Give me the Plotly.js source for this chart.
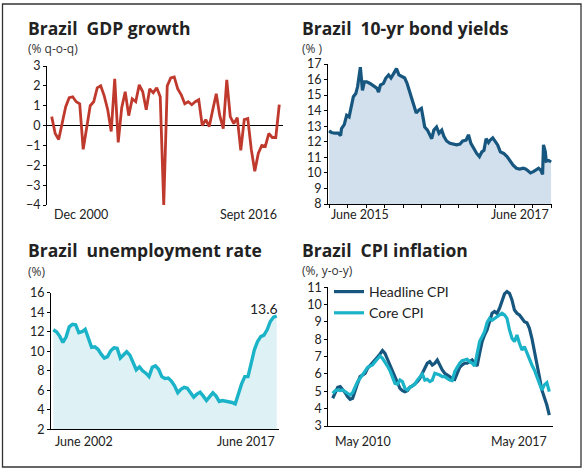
<!DOCTYPE html>
<html>
<head>
<meta charset="utf-8">
<script src="https://cdn.plot.ly/plotly-3.0.1.min.js"></script>
<style>html,body{margin:0;padding:0;background:#fff;}#chart{width:587px;height:470px;}</style>
</head>
<body>
<div id="chart"></div>
<script>
// ---------------- DATA ----------------
// Brazil GDP growth, % q-o-q, quarterly Dec 2000 .. Sept 2016
const gdpGrowth = [0.45,-0.4,-0.7,0.1,0.95,1.4,1.45,1.2,1.1,-1.2,0,1.0,1.2,1.9,2.0,1.5,0.8,-0.3,2.35,-0.85,0.9,1.7,0.5,1.35,1.2,2.05,1.7,0.8,1.85,1.65,1.9,1.45,-4.0,2.0,2.4,2.45,1.85,1.55,1.1,1.2,1.05,1.2,1.3,0.0,0.3,-0.05,0.8,1.6,0.5,-0.15,2.3,0.45,0.1,0.4,-1.25,0.3,0.35,-1.2,-2.3,-1.4,-1.0,-1.05,-0.4,-0.6,-0.6,1.05];
const gdpLabels = ["Dec 2000", "Sept 2016"];

// Brazil 10-yr bond yields, %
const bondDates = ["2015-06-01","2015-06-09","2015-06-20","2015-07-01","2015-07-09","2015-07-12","2015-07-21","2015-07-29","2015-08-06","2015-08-12","2015-08-20","2015-08-28","2015-09-03","2015-09-12","2015-09-19","2015-09-25","2015-10-03","2015-10-14","2015-10-25","2015-11-05","2015-11-11","2015-11-17","2015-11-27","2015-12-05","2015-12-14","2015-12-22","2015-12-31","2016-01-09","2016-01-17","2016-01-28","2016-02-05","2016-02-13","2016-02-21","2016-02-27","2016-03-06","2016-03-14","2016-03-23","2016-03-31","2016-04-05","2016-04-11","2016-04-20","2016-04-27","2016-05-04","2016-05-11","2016-05-20","2016-05-28","2016-06-06","2016-06-13","2016-06-22","2016-07-03","2016-07-14","2016-07-25","2016-08-05","2016-08-14","2016-08-25","2016-09-02","2016-09-10","2016-09-18","2016-09-29","2016-10-08","2016-10-16","2016-10-23","2016-10-30","2016-11-07","2016-11-12","2016-11-21","2016-11-29","2016-12-07","2016-12-16","2016-12-27","2017-01-07","2017-01-18","2017-01-27","2017-02-07","2017-02-18","2017-03-01","2017-03-09","2017-03-16","2017-03-25","2017-04-05","2017-04-14","2017-04-21","2017-04-29","2017-05-04","2017-05-07","2017-05-13","2017-05-16","2017-05-24","2017-06-01"];
const bondYields = [12.7,12.6,12.55,12.55,12.4,12.85,13.1,13.7,13.6,14.15,14.9,15.1,15.55,16.8,15.3,15.85,15.85,15.75,15.6,15.45,15.2,15.65,15.75,16.1,16.3,16.1,16.4,16.7,16.3,16.2,16.1,15.75,15.2,14.8,14.35,13.85,14.05,14.15,13.6,12.95,12.75,12.45,12.2,12.75,12.95,12.55,12.75,12.35,12.05,11.9,11.85,11.8,11.85,12.05,12.1,12.45,11.9,11.6,11.25,11.05,11.35,11.45,12.2,11.95,12.1,12.25,12.0,11.8,11.35,11.25,11.05,10.75,10.5,10.3,10.25,10.3,10.25,10.15,10.0,10.1,10.25,10.3,10.15,9.9,11.8,11.35,10.75,10.8,10.7];
const bondTicks = ["2015-06-01","2015-08-01","2015-10-01","2015-12-01","2016-02-01","2016-04-01","2016-06-01","2016-08-01","2016-10-01","2016-12-01","2017-02-01","2017-04-01","2017-06-01"];
const bondLabels = ["June 2015", "June 2017"];

// Brazil unemployment rate, %
const unemployment = [12.2,12.0,11.55,10.9,11.45,12.5,12.75,12.7,11.9,12.0,12.25,11.3,10.4,10.45,10.2,9.7,9.3,9.45,10.05,10.35,10.3,9.3,9.6,9.95,9.6,8.85,8.1,8.4,8.0,7.75,7.4,8.35,8.5,8.15,7.4,7.2,7.25,6.95,6.45,5.75,6.1,6.3,6.2,5.75,5.3,5.6,5.8,5.4,4.95,5.35,5.75,5.4,4.85,4.95,4.9,4.85,4.75,4.6,5.7,6.65,7.4,7.4,8.75,10.15,11.0,11.5,11.65,12.2,13.05,13.5,13.6];
const unempLabels = ["June 2002", "June 2017"];

// Brazil CPI inflation, % y-o-y, monthly May 2010 .. May 2017
const cpiHeadline = [4.6,4.98,5.23,5.27,5.12,4.92,4.69,4.54,4.6,5.08,5.46,5.85,5.94,6.04,6.33,6.52,6.65,6.81,6.96,7.15,7.35,7.19,6.85,6.52,6.19,5.85,5.42,5.17,5.04,4.98,5.04,5.23,5.31,5.42,5.56,5.75,6.0,6.33,6.62,6.71,6.52,6.62,6.81,6.46,6.23,6.04,5.94,5.81,5.75,5.69,6.04,6.38,6.52,6.62,6.62,6.71,6.81,6.62,6.46,7.19,7.87,8.25,8.54,9.02,9.5,9.6,9.5,9.79,10.27,10.62,10.75,10.65,10.27,9.69,9.5,9.4,9.21,9.02,8.96,8.63,8.06,7.38,6.62,5.85,5.08,4.69,4.21,3.63];
const cpiCore = [4.88,5.04,5.08,5.04,5.08,4.98,4.92,4.79,4.92,5.23,5.56,5.75,5.94,6.19,6.38,6.46,6.52,6.71,6.9,7.04,6.9,6.71,6.46,6.19,5.85,5.46,5.42,5.65,5.56,5.17,5.08,5.23,5.31,5.4,5.65,5.85,6.0,5.65,5.69,5.56,5.65,6.04,6.0,5.94,5.85,5.85,5.75,5.65,5.62,6.13,6.38,6.62,6.77,6.81,6.85,6.71,6.62,6.46,7.1,7.87,8.15,8.44,8.96,9.21,9.1,9.21,9.27,9.4,9.5,9.4,9.21,8.54,8.06,7.87,8.25,7.77,7.38,7.58,7.19,6.9,6.52,6.23,5.85,5.46,5.08,5.37,5.5,4.98];
const cpiLabels = ["May 2010", "May 2017"];
const cpiNames = ["Headline CPI", "Core CPI"];

const titles = ["Brazil\u00a0 GDP growth", "Brazil\u00a0 10-yr bond yields", "Brazil\u00a0 unemployment rate", "Brazil\u00a0 CPI inflation"];
const subtitles = ["(% q-o-q)", "(%\u00a0)", "(%)", "(%, y-o-y)"];

// ---------------- LAYOUT HELPERS ----------------
const W = 587, H = 470;
const px = x => x / W;
const py = y => 1 - y / H;
const FONT = "Lato, 'Open Sans', 'DejaVu Sans', sans-serif";
const TFONT = "'Open Sans', Lato, sans-serif";
const idx = arr => arr.map((_, i) => i);

const RED = "#c0392d", NAVY = "#17577f", TEAL = "#1bb3c8";

const traces = [
  {x: idx(gdpGrowth), y: gdpGrowth, xaxis: "x", yaxis: "y", type: "scatter", mode: "lines",
   line: {color: RED, width: 2.8}, showlegend: false},
  {x: bondDates, y: bondYields, xaxis: "x2", yaxis: "y2", type: "scatter", mode: "lines",
   line: {color: NAVY, width: 3.2}, fill: "tozeroy", fillcolor: "#d2dfed", showlegend: false},
  {x: idx(unemployment), y: unemployment, xaxis: "x3", yaxis: "y3", type: "scatter", mode: "lines",
   line: {color: TEAL, width: 3.4}, fill: "tozeroy", fillcolor: "#def1f5", showlegend: false},
  {x: idx(cpiHeadline), y: cpiHeadline, xaxis: "x4", yaxis: "y4", type: "scatter", mode: "lines",
   name: cpiNames[0], line: {color: NAVY, width: 3.2}},
  {x: idx(cpiCore), y: cpiCore, xaxis: "x4", yaxis: "y4", type: "scatter", mode: "lines",
   name: cpiNames[1], line: {color: TEAL, width: 3.2}}
];

const tickFont = {family: FONT, size: 12.5, color: "#222"};
const yBase = {showline: true, linecolor: "#000", linewidth: 1, ticks: "outside", ticklen: 3,
  tickcolor: "#000", tickwidth: 1, showgrid: false, zeroline: false, tickfont: tickFont, fixedrange: true};
const xBase = {showgrid: false, zeroline: false, showticklabels: false, ticks: "", fixedrange: true};

const layout = {
  width: W, height: H,
  margin: {l: 0, r: 0, t: 0, b: 0},
  paper_bgcolor: "#fff", plot_bgcolor: "rgba(0,0,0,0)",
  font: {family: FONT, color: "#222"},
  xaxis: Object.assign({}, xBase, {domain: [px(47), px(283)], range: [-1.34, 66.06], showline: false}),
  yaxis: Object.assign({}, yBase, {domain: [py(205), py(66)], range: [-4, 3], dtick: 1, anchor: "x",
    zeroline: true, zerolinecolor: "#000", zerolinewidth: 1}),
  xaxis2: Object.assign({}, xBase, {type: "date", domain: [px(328), px(552)],
    range: ["2015-05-28 12:00", "2017-06-04"], showline: true, linecolor: "#000", linewidth: 1,
    tickmode: "array", tickvals: bondTicks, ticks: "outside", ticklen: 3, tickcolor: "#000", anchor: "y2"}),
  yaxis2: Object.assign({}, yBase, {domain: [py(204), py(64)], range: [8, 17], dtick: 1, anchor: "x2"}),
  xaxis3: Object.assign({}, xBase, {domain: [px(51), px(279)], range: [-0.72, 70.72],
    showline: true, linecolor: "#000", linewidth: 1, anchor: "y3"}),
  yaxis3: Object.assign({}, yBase, {domain: [py(429.3), py(292.7)], range: [2, 16], dtick: 2, anchor: "x3"}),
  xaxis4: Object.assign({}, xBase, {domain: [px(328.3), px(553.3)], range: [-1.77, 88.6],
    showline: true, linecolor: "#000", linewidth: 1, anchor: "y4"}),
  yaxis4: Object.assign({}, yBase, {domain: [py(426), py(287.3)], range: [3, 11], dtick: 1, anchor: "x4"}),
  showlegend: true,
  legend: {x: px(329), y: py(276), xanchor: "left", yanchor: "top", bgcolor: "rgba(0,0,0,0)",
    font: {family: FONT, size: 14, color: "#222"}, itemwidth: 30, tracegroupgap: 0},
  shapes: [
    {type: "rect", xref: "paper", yref: "paper", x0: px(2.5), x1: px(581), y0: py(467), y1: py(4),
     line: {color: "#333", width: 1.3}, fillcolor: "rgba(0,0,0,0)"}
  ],
  annotations: []
};

const titlePos = [[27, 28], [301, 28], [27, 250], [301, 250]];
const subPos = [[27, 48], [301, 48], [27, 271], [301, 270]];
titles.forEach((t, i) => {
  layout.annotations.push({text: "<b>" + t + "</b>", xref: "paper", yref: "paper",
    x: px(titlePos[i][0]), y: py(titlePos[i][1]), xanchor: "left", yanchor: "middle", showarrow: false,
    borderpad: 0, font: {family: TFONT, size: 17.5, color: "#222"}});
  layout.annotations.push({text: subtitles[i], xref: "paper", yref: "paper",
    x: px(subPos[i][0]), y: py(subPos[i][1]), xanchor: "left", yanchor: "middle", showarrow: false,
    borderpad: 0, font: {family: TFONT, size: 12, color: "#333"}});
});

function endLabels(labels, xref, x0, x1, yPix) {
  layout.annotations.push({text: labels[0], xref: xref, yref: "paper", x: x0, y: py(yPix),
    xanchor: "left", yanchor: "middle", showarrow: false, font: tickFont});
  layout.annotations.push({text: labels[1], xref: xref, yref: "paper", x: x1, y: py(yPix),
    xanchor: "right", yanchor: "middle", showarrow: false, font: tickFont});
}
endLabels(gdpLabels, "x", 0, gdpGrowth.length - 1, 214);
endLabels(bondLabels, "x2", bondDates[0], bondDates[bondDates.length - 1], 215);
endLabels(unempLabels, "x3", 0, unemployment.length - 1, 441);
endLabels(cpiLabels, "x4", 0, cpiHeadline.length - 1, 441);

const lastU = unemployment[unemployment.length - 1];
layout.annotations.push({text: lastU.toFixed(1), xref: "x3", yref: "y3", x: unemployment.length - 1, y: lastU,
  xanchor: "right", yanchor: "bottom", yshift: -3, xshift: 3, showarrow: false,
  font: {family: FONT, size: 14, color: "#222"}});

Plotly.newPlot("chart", traces, layout, {staticPlot: true, displayModeBar: false});
</script>
</body>
</html>
